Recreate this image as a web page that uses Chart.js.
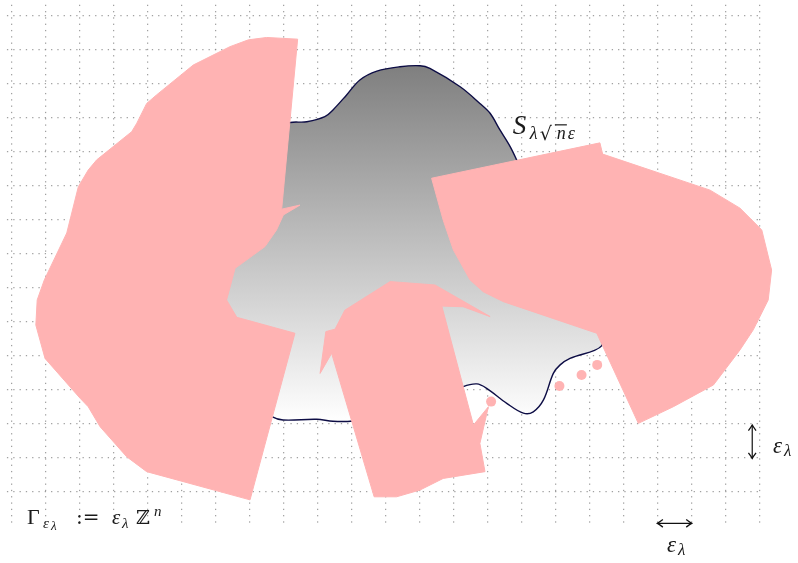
<!DOCTYPE html>
<html>
<head>
<meta charset="utf-8">
<script src="https://cdn.jsdelivr.net/npm/chart.js@4.4.1/dist/chart.umd.min.js"></script>
<style>
  html, body { margin: 0; padding: 0; background: #fff; }
  #wrap { width: 798px; height: 563px; }
</style>
</head>
<body>
<div id="wrap"><canvas id="chart" width="798" height="563"></canvas></div>
<script>
// grid units: one cell of the lattice = 1
const gridCols = Array.from({ length: 23 }, (_, i) => i);
const gridRows = Array.from({ length: 15 }, (_, i) => i + 1);
const gridLeft = -0.14, gridRight = 22.06, gridBottom = 0.09, gridTop = 15.6;

// the set S (grey, shaded), outline
const setS = [
  [6.86, 9.58], [7.54, 11.05], [8.07, 11.81], [8.68, 11.88], [9.21, 12.03], [9.45, 12.23],
  [9.85, 12.67], [10.24, 13.11], [10.74, 13.37], [11.42, 13.50], [12.01, 13.53], [12.30, 13.45],
  [13.19, 12.91], [13.77, 12.42], [14.07, 12.13], [14.36, 11.64], [14.66, 11.15], [14.85, 10.76],
  [15.39, 9.58], [16.13, 7.96], [16.80, 6.64], [17.19, 5.81], [17.35, 5.29], [16.42, 4.92],
  [16.13, 4.73], [15.93, 4.48], [15.64, 3.70], [15.34, 3.35], [15.05, 3.31], [14.56, 3.60],
  [13.97, 4.04], [13.68, 4.17], [13.28, 4.09], [12.60, 3.76], [11.42, 3.29], [10.04, 3.08],
  [9.45, 3.07], [8.97, 3.13], [7.98, 3.11], [7.65, 3.21], [7.16, 3.55], [6.57, 4.87],
  [6.19, 6.34], [6.27, 7.81], [6.86, 9.58]
];

// the three pink covering pieces
const pieceLeft = [
  [8.41, 14.31], [7.94, 9.31], [8.48, 9.43], [7.99, 9.14], [7.79, 8.70], [7.45, 8.21],
  [6.57, 7.57], [6.32, 6.64], [6.62, 6.13], [8.33, 5.66], [7.01, 0.76], [3.97, 1.59],
  [3.38, 2.03], [2.60, 2.91], [2.25, 3.50], [2.01, 3.75], [0.98, 4.92], [0.71, 5.90],
  [0.75, 6.64], [0.96, 7.23], [1.62, 8.61], [1.96, 9.97], [2.25, 10.46], [2.50, 10.76],
  [3.53, 11.59], [3.68, 11.84], [3.97, 12.42], [4.26, 12.67], [5.34, 13.55], [6.42, 14.09],
  [6.96, 14.29], [7.50, 14.36], [8.41, 14.31]
];
const pieceMiddle = [
  [9.80, 6.34], [11.13, 7.18], [12.45, 7.08], [14.07, 6.15], [13.28, 6.44], [12.65, 6.46],
  [13.58, 2.96], [14.02, 3.50], [13.77, 2.42], [13.92, 1.59], [12.69, 1.39], [12.01, 1.05],
  [11.32, 0.85], [10.66, 0.85], [9.41, 5.07], [9.07, 4.48], [9.24, 5.71], [9.51, 5.78],
  [9.80, 6.34]
];
const pieceRight = [
  [12.35, 10.22], [17.30, 11.26], [17.38, 10.93], [20.54, 9.87], [21.42, 9.34], [22.06, 8.70],
  [22.35, 7.52], [22.25, 6.64], [21.81, 5.76], [21.42, 5.17], [20.64, 4.14], [19.46, 3.50],
  [18.43, 3.01], [17.30, 5.46], [17.21, 5.66], [14.46, 6.59], [13.87, 6.88], [13.48, 7.23],
  [12.99, 8.11], [12.69, 8.99], [12.35, 10.22]
];

// small pink balls along the boundary
const balls = [[14.10, 3.65], [16.11, 4.11], [16.76, 4.43], [17.22, 4.73]];

// scale arrows (one lattice step each)
const arrowV = [[21.78, 1.98], [21.78, 2.96]];
const arrowH = [[18.99, 0.07], [20.00, 0.07]];

const PINK = '#ffb3b3';
const pts = a => a.map(([x, y]) => ({ x, y }));

const dotGrid = {
  id: 'dotGrid',
  beforeDatasetsDraw(chart) {
    const { ctx, scales: { x, y } } = chart;
    ctx.save();
    ctx.strokeStyle = '#8a8a8a';
    ctx.lineWidth = 1;
    ctx.setLineDash([1.3, 5]);
    ctx.beginPath();
    gridCols.forEach(v => {
      const px = x.getPixelForValue(v);
      ctx.moveTo(px, y.getPixelForValue(gridBottom));
      ctx.lineTo(px, y.getPixelForValue(gridTop));
    });
    gridRows.forEach(v => {
      const py = y.getPixelForValue(v);
      ctx.moveTo(x.getPixelForValue(gridLeft), py);
      ctx.lineTo(x.getPixelForValue(gridRight), py);
    });
    ctx.stroke();
    ctx.restore();
  }
};

function head(ctx, tip, from) {
  const a = Math.atan2(tip.y - from.y, tip.x - from.x);
  const len = 5.5, w = 3.8;
  const bx = tip.x - Math.cos(a) * len, by = tip.y - Math.sin(a) * len;
  const nx = -Math.sin(a) * w, ny = Math.cos(a) * w;
  ctx.beginPath();
  ctx.moveTo(bx + nx, by + ny);
  ctx.quadraticCurveTo(tip.x - Math.cos(a) * 1.5 + nx * 0.2, tip.y - Math.sin(a) * 1.5 + ny * 0.2, tip.x, tip.y);
  ctx.quadraticCurveTo(tip.x - Math.cos(a) * 1.5 - nx * 0.2, tip.y - Math.sin(a) * 1.5 - ny * 0.2, bx - nx, by - ny);
  ctx.stroke();
}

const arrowHeads = {
  id: 'arrowHeads',
  afterDatasetsDraw(chart) {
    const { ctx } = chart;
    chart.data.datasets.forEach((ds, i) => {
      if (!ds.arrows) return;
      const p = chart.getDatasetMeta(i).data;
      ctx.save();
      ctx.strokeStyle = '#111';
      ctx.lineWidth = 1.3;
      head(ctx, p[0], p[1]);
      head(ctx, p[p.length - 1], p[p.length - 2]);
      ctx.restore();
    });
  }
};

// math labels: anchor in grid units, runs offset in px from anchor
const IT = 'italic {s}px "Liberation Serif", "DejaVu Serif", serif';
const RM = '{s}px "Liberation Serif", "DejaVu Serif", serif';
const SYM = '{s}px "DejaVu Serif", serif';
const labels = [
  { at: [14.74, 11.52], runs: [
    { t: 'S', f: IT, s: 27, dx: 0, dy: 0 },
    { t: 'λ', f: IT, s: 18, dx: 17, dy: 4.5 },
    { t: '√', f: SYM, s: 19, dx: 27, dy: 6 },
    { t: 'n', f: IT, s: 18, dx: 44, dy: 4.5, bar: true },
    { t: 'ε', f: IT, s: 18, dx: 55, dy: 4.5 }
  ] },
  { at: [0.45, 0.04], runs: [
    { t: 'Γ', f: RM, s: 22, dx: 0, dy: 0 },
    { t: 'ε', f: IT, s: 15, dx: 16, dy: 4 },
    { t: 'λ', f: IT, s: 13, dx: 24, dy: 6 },
    { t: ':=', f: SYM, s: 20, dx: 49, dy: 0 },
    { t: 'ε', f: IT, s: 21, dx: 85, dy: 0 },
    { t: 'λ', f: IT, s: 15, dx: 95, dy: 4 },
    { t: 'ℤ', f: SYM, s: 19, dx: 109, dy: 0 },
    { t: 'n', f: IT, s: 15, dx: 127, dy: -8 }
  ] },
  { at: [22.39, 2.15], runs: [
    { t: 'ε', f: IT, s: 23, dx: 0, dy: 0 },
    { t: 'λ', f: IT, s: 17, dx: 11, dy: 3 }
  ] },
  { at: [19.27, -0.76], runs: [
    { t: 'ε', f: IT, s: 23, dx: 0, dy: 0 },
    { t: 'λ', f: IT, s: 17, dx: 11, dy: 3 }
  ] }
];

const mathText = {
  id: 'mathText',
  afterDatasetsDraw(chart) {
    const { ctx, scales: { x, y } } = chart;
    ctx.save();
    ctx.fillStyle = '#1a1a1a';
    ctx.strokeStyle = '#1a1a1a';
    ctx.textBaseline = 'alphabetic';
    labels.forEach(l => {
      const x0 = x.getPixelForValue(l.at[0]), y0 = y.getPixelForValue(l.at[1]);
      l.runs.forEach(r => {
        ctx.font = r.f.replace('{s}', r.s);
        ctx.fillText(r.t, x0 + r.dx, y0 + r.dy);
        if (r.bar) {
          const w = ctx.measureText(r.t).width;
          ctx.lineWidth = 1.2;
          ctx.beginPath();
          ctx.moveTo(x0 + r.dx - 2, y0 + r.dy - r.s * 0.76);
          ctx.lineTo(x0 + r.dx + w + 1, y0 + r.dy - r.s * 0.76);
          ctx.stroke();
        }
      });
    });
    ctx.restore();
  }
};

const piece = (data, order) => ({
  data: pts(data), showLine: true, fill: 'shape', order,
  backgroundColor: PINK, borderColor: PINK, borderWidth: 1, pointRadius: 0, tension: 0
});

new Chart(document.getElementById('chart'), {
  type: 'scatter',
  data: {
    datasets: [
      {
        data: pts(setS), showLine: true, fill: 'shape', order: 9,
        tension: 0.35, borderColor: '#0d0d45', borderWidth: 1.4, pointRadius: 0,
        backgroundColor(c) {
          const { chart } = c;
          const { ctx, chartArea, scales } = chart;
          if (!chartArea) return '#bbb';
          const ys = setS.map(p => p[1]);
          const g = ctx.createLinearGradient(0, scales.y.getPixelForValue(Math.max(...ys)),
            0, scales.y.getPixelForValue(Math.min(...ys)));
          g.addColorStop(0, '#7f7f7f');
          g.addColorStop(1, '#ffffff');
          return g;
        }
      },
      piece(pieceLeft, 6),
      piece(pieceMiddle, 5),
      piece(pieceRight, 4),
      {
        data: pts(balls), showLine: false, order: 3,
        pointRadius: 5, pointBackgroundColor: PINK, pointBorderWidth: 0, pointBorderColor: PINK
      },
      { data: pts(arrowV), showLine: true, arrows: true, order: 2, borderColor: '#111', borderWidth: 1.2, pointRadius: 0 },
      { data: pts(arrowH), showLine: true, arrows: true, order: 1, borderColor: '#111', borderWidth: 1.2, pointRadius: 0 }
    ]
  },
  options: {
    responsive: false,
    animation: false,
    events: [],
    layout: { padding: 0, autoPadding: false },
    plugins: { legend: { display: false }, tooltip: { enabled: false } },
    scales: {
      x: { type: 'linear', min: -0.344, max: 23.126, display: false },
      y: { type: 'linear', min: -1.097, max: 15.462, display: false }
    }
  },
  plugins: [dotGrid, arrowHeads, mathText]
});
</script>
</body>
</html>
